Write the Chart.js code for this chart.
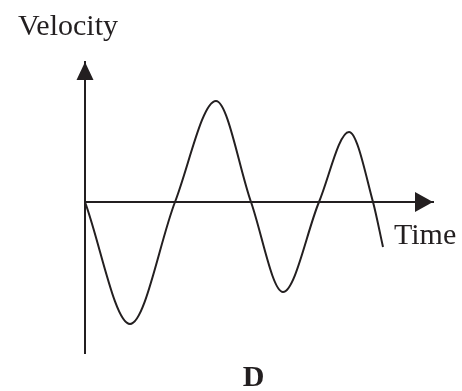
<html>
	<head>
		<script src="https://cdn.jsdelivr.net/npm/chart.js@4"></script>
		<style>
			body { margin: 0; background: #fff; }
		</style>
	</head>
	<body>
		<canvas id="myChart" width="462" height="391"></canvas>
		<script>
			// curve (time, velocity) - arbitrary units
			var timeVals = [0, 45, 90, 131, 166, 198, 234, 264, 288, 298];
			var velVals  = [0, -122, 0, 101, 0, -90, 0, 70, 0, -45];
			var yLabel = "Velocity";
			var xLabel = "Time";
			var caption = "D";

			var ink = "#231f20";

			var pts = [];
			for(var i = 0; i < timeVals.length; i++){
				pts.push({x: timeVals[i], y: velVals[i]});
			}

			// arrow heads + labels
			var extras = {
				id: "extras",
				afterDraw: function(chart){
					var ctx = chart.ctx;
					var a = chart.chartArea;
					var x0 = chart.scales.x.getPixelForValue(0);
					var y0 = chart.scales.y.getPixelForValue(0);
					ctx.save();
					ctx.fillStyle = ink;
					ctx.beginPath();
					ctx.moveTo(x0, a.top);
					ctx.lineTo(x0 - 8.5, a.top + 18);
					ctx.lineTo(x0 + 8.5, a.top + 18);
					ctx.closePath();
					ctx.fill();
					ctx.beginPath();
					ctx.moveTo(a.right, y0);
					ctx.lineTo(a.right - 18, y0 - 10);
					ctx.lineTo(a.right - 18, y0 + 10);
					ctx.closePath();
					ctx.fill();

					ctx.textBaseline = "alphabetic";
					ctx.font = '30px "Liberation Serif"';
					ctx.textAlign = "left";
					ctx.fillText(yLabel, 18, 35);
					ctx.fillText(xLabel, 394, 244);
					ctx.font = 'bold 30px "Liberation Serif"';
					ctx.textAlign = "center";
					ctx.fillText(caption, 253.5, 386);
					ctx.restore();
				}
			};

			new Chart(document.getElementById("myChart"), {
				type: "scatter",
				data: {
					datasets: [{
						data: pts,
						showLine: true,
						borderColor: ink,
						borderWidth: 2,
						pointRadius: 0,
						fill: false,
						cubicInterpolationMode: "monotone"
					}]
				},
				options: {
					responsive: false,
					animation: false,
					layout: { padding: { left: 85, top: 62, right: 29, bottom: 38 } },
					plugins: { legend: { display: false }, tooltip: { enabled: false } },
					scales: {
						x: {
							type: "linear", min: 0, max: 348,
							position: { y: 0 },
							grid: { display: false },
							ticks: { display: false },
							border: { color: ink, width: 2 }
						},
						y: {
							type: "linear", min: -151, max: 140,
							position: { x: 0 },
							grid: { display: false },
							ticks: { display: false },
							border: { color: ink, width: 2 }
						}
					}
				},
				plugins: [extras]
			});
		</script>
	</body>
</html>
